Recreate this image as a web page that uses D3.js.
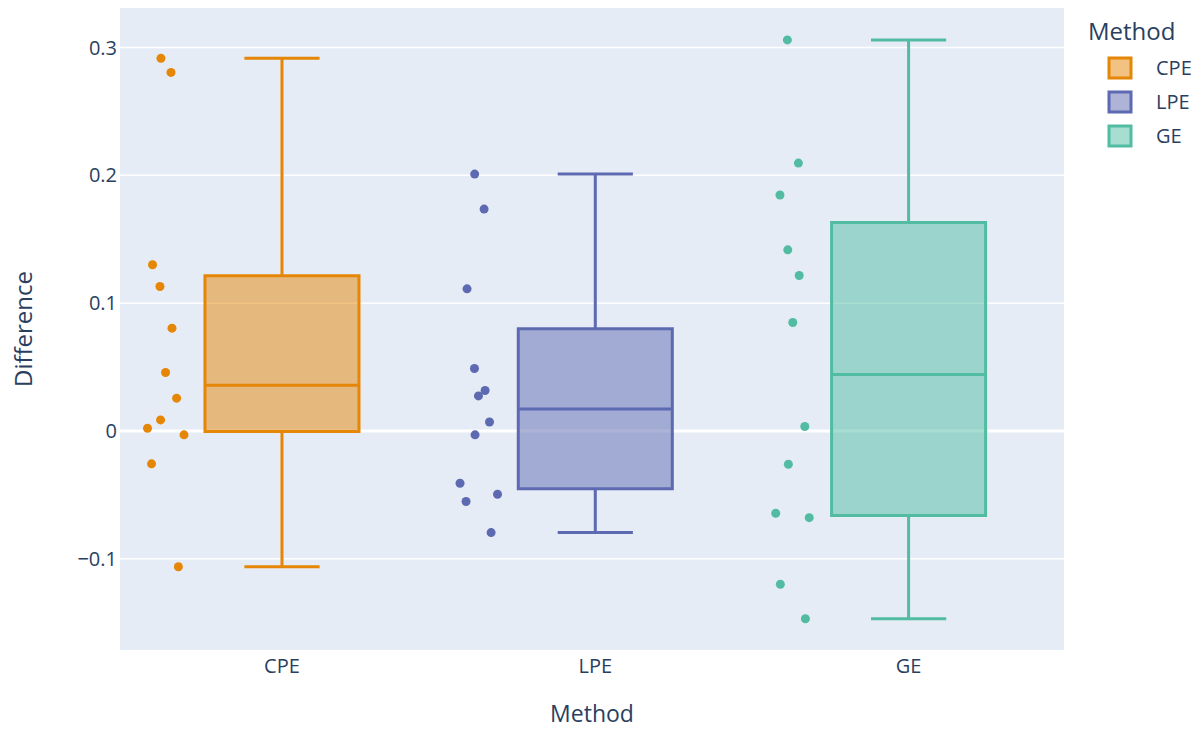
<!DOCTYPE html>
<html>
<head>
<meta charset="utf-8">
<script src="https://cdn.jsdelivr.net/npm/d3@7"></script>
<style>
  html, body { margin: 0; padding: 0; background: #fff; }
  svg text { font-family: "Open Sans", verdana, arial, sans-serif; fill: #2a3f5f; }
</style>
</head>
<body>
<svg id="chart" width="1201" height="730"></svg>
<script>
// Methods compared
const methods = ["CPE", "LPE", "GE"];
const colors = ["rgb(229,134,6)", "rgb(93,105,177)", "rgb(82,188,163)"];

// Observed differences per method
const cpeValues = [0.2916, 0.2806, 0.130, 0.113, 0.0804, 0.0457, 0.0256, 0.0086, 0.0021, -0.0031, -0.0258, -0.1063];
const lpeValues = [0.201, 0.1736, 0.1112, 0.0488, 0.0316, 0.0274, 0.0070, -0.0031, -0.041, -0.0496, -0.0553, -0.0796];
const geValues  = [0.306, 0.2096, 0.1846, 0.1417, 0.1216, 0.0848, 0.0034, -0.0261, -0.0645, -0.0679, -0.120, -0.147];

// Horizontal jitter of each point, as a fraction of the jitter band (-1..1)
const cpeJitter = [-0.2, 0.3, -0.62, -0.25, 0.35, 0.03, 0.58, -0.22, -0.87, 0.95, -0.67, 0.67];
const lpeJitter = [-0.18, 0.29, -0.56, -0.19, 0.34, 0.01, 0.56, -0.16, -0.91, 0.96, -0.61, 0.64];
const geJitter  = [-0.21, 0.34, -0.58, -0.19, 0.38, 0.06, 0.66, -0.16, -0.79, 0.88, -0.56, 0.69];

// Y axis ticks
const yTicks = [-0.1, 0, 0.1, 0.2, 0.3];
const yTickLabels = ["\u22120.1", "0", "0.1", "0.2", "0.3"];

const seriesValues = [cpeValues, lpeValues, geValues];
const seriesJitter = [cpeJitter, lpeJitter, geJitter];

const svg = d3.select("#chart");
const plot = { left: 120, right: 1064, top: 8, bottom: 650 };

const x = d3.scaleLinear().domain([-0.517, 2.496]).range([plot.left, plot.right]);
const y = d3.scaleLinear().domain([-0.1715, 0.331]).range([plot.bottom, plot.top]);

const boxHalf = 0.2458;      // half box width, category units
const capHalf = 0.12;        // half whisker cap width
const pointOffset = -0.3735; // points drawn to the left of each box
const jitterHalf = 0.064;

// Quartile by linear interpolation between order statistics
function interp(sorted, p) {
  let n = p * sorted.length - 0.5;
  if (n < 0) return sorted[0];
  if (n > sorted.length - 1) return sorted[sorted.length - 1];
  const f = n % 1;
  return f * sorted[Math.ceil(n)] + (1 - f) * sorted[Math.floor(n)];
}
function boxStats(values) {
  const s = values.slice().sort((a, b) => a - b);
  const q1 = interp(s, 0.25), med = interp(s, 0.5), q3 = interp(s, 0.75);
  const iqr = q3 - q1;
  const lo = d3.min(s.filter(v => v >= q1 - 1.5 * iqr));
  const hi = d3.max(s.filter(v => v <= q3 + 1.5 * iqr));
  return { q1, med, q3, lo, hi };
}

// Plot background
svg.append("rect")
  .attr("x", plot.left).attr("y", plot.top)
  .attr("width", plot.right - plot.left).attr("height", plot.bottom - plot.top)
  .attr("fill", "#E5ECF6");

// Grid lines
svg.append("g").selectAll("line").data(yTicks).join("line")
  .attr("x1", plot.left).attr("x2", plot.right)
  .attr("y1", d => y(d)).attr("y2", d => y(d))
  .attr("stroke", "#fff")
  .attr("stroke-width", d => d === 0 ? 3 : 1.5);

// Y tick labels
svg.append("g").selectAll("text").data(yTicks).join("text")
  .attr("x", plot.left - 3).attr("y", d => y(d))
  .attr("dy", "0.35em")
  .attr("text-anchor", "end")
  .attr("font-size", 20)
  .text((d, i) => yTickLabels[i]);

// X tick labels
svg.append("g").selectAll("text").data(methods).join("text")
  .attr("x", (d, i) => x(i)).attr("y", plot.bottom + 9)
  .attr("dy", "0.71em")
  .attr("text-anchor", "middle")
  .attr("font-size", 20)
  .text(d => d);

// Axis titles
svg.append("text")
  .attr("x", (plot.left + plot.right) / 2).attr("y", 722)
  .attr("text-anchor", "middle").attr("font-size", 23)
  .text("Method");
svg.append("text")
  .attr("transform", `translate(32,${(plot.top + plot.bottom) / 2}) rotate(-90)`)
  .attr("text-anchor", "middle").attr("font-size", 24)
  .text("Difference");

// Boxes, whiskers and points
methods.forEach((m, i) => {
  const st = boxStats(seriesValues[i]);
  const g = svg.append("g");
  const c = colors[i];
  const x0 = x(i - boxHalf), x1 = x(i + boxHalf), xc = x(i);
  const path = d3.path();
  // box outline
  path.moveTo(x0, y(st.q1)); path.lineTo(x1, y(st.q1));
  path.lineTo(x1, y(st.q3)); path.lineTo(x0, y(st.q3)); path.closePath();
  g.append("path").attr("d", path.toString())
    .attr("fill", c).attr("fill-opacity", 0.5)
    .attr("stroke", c).attr("stroke-width", 3);
  // median
  g.append("line")
    .attr("x1", x0).attr("x2", x1).attr("y1", y(st.med)).attr("y2", y(st.med))
    .attr("stroke", c).attr("stroke-width", 3);
  // whiskers
  const w = d3.path();
  w.moveTo(xc, y(st.q3)); w.lineTo(xc, y(st.hi));
  w.moveTo(x(i - capHalf), y(st.hi)); w.lineTo(x(i + capHalf), y(st.hi));
  w.moveTo(xc, y(st.q1)); w.lineTo(xc, y(st.lo));
  w.moveTo(x(i - capHalf), y(st.lo)); w.lineTo(x(i + capHalf), y(st.lo));
  g.append("path").attr("d", w.toString())
    .attr("fill", "none").attr("stroke", c).attr("stroke-width", 3);
  // all points, jittered
  g.selectAll("circle").data(seriesValues[i]).join("circle")
    .attr("cx", (d, k) => x(i + pointOffset + seriesJitter[i][k] * jitterHalf))
    .attr("cy", d => y(d))
    .attr("r", 4.5)
    .attr("fill", c);
});

// Legend
const legend = svg.append("g");
legend.append("text")
  .attr("x", 1088).attr("y", 40)
  .attr("font-size", 24)
  .text("Method");
methods.forEach((m, i) => {
  const cy = 68 + i * 34;
  legend.append("rect")
    .attr("x", 1109).attr("y", cy - 10)
    .attr("width", 22).attr("height", 20)
    .attr("fill", colors[i]).attr("fill-opacity", 0.5)
    .attr("stroke", colors[i]).attr("stroke-width", 3);
  legend.append("text")
    .attr("x", 1156).attr("y", cy)
    .attr("dy", "0.35em")
    .attr("font-size", 20)
    .text(m);
});
</script>
</body>
</html>
